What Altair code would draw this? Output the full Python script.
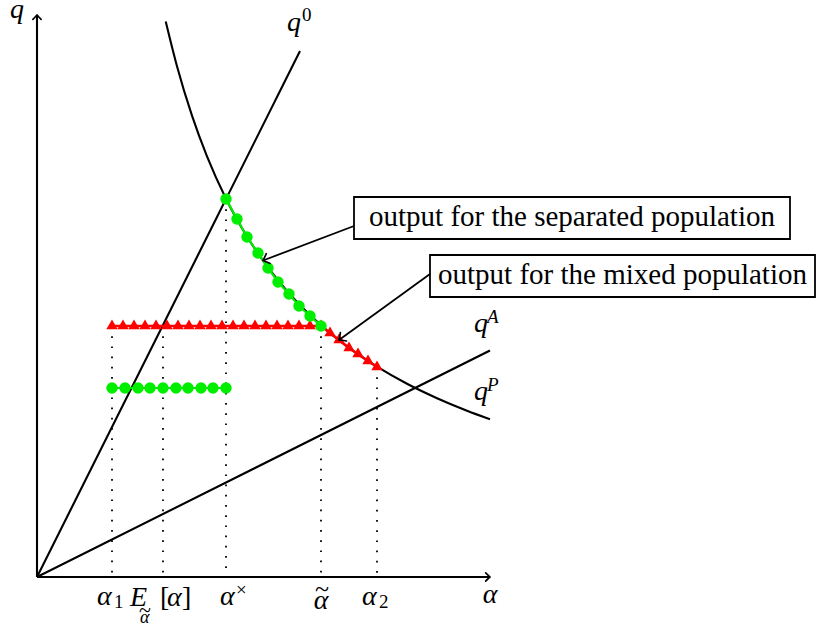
import math
import altair as alt
import pandas as pd

# ---------------------------------------------------------------- data
alpha_end, q_end = 4.53, 5.62          # reach of the alpha and q axes

# q^0 and q^A: straight schedules through the origin
q0_alpha = [0.0, 2.63]
q0_q = [0.0, 5.26]
qA_alpha = [0.0, 4.53]
qA_q = [0.0, 2.265]

# q^P: decreasing, convex schedule
qP_alpha = [1.287, 1.40, 1.55, 1.70, 1.89, 2.10, 2.35, 2.60, 2.84, 3.10,
            3.40, 3.70, 4.00, 4.30, 4.53]
qP_q = [5.556, 5.107, 4.613, 4.206, 3.783, 3.405, 3.043, 2.750, 2.518, 2.306,
        2.103, 1.932, 1.788, 1.663, 1.578]

# marked types: alpha_1, E[alpha], alpha^x, alpha~, alpha_2
tick_alpha = [0.75, 1.26, 1.89, 2.84, 3.40]
tick_top = [2.51, 2.51, 3.78, 2.51, 2.10]

# output for the mixed population (red triangles)
mixed_alpha = [0.75, 0.86, 0.97, 1.08, 1.19, 1.30, 1.41, 1.52, 1.63, 1.74,
               1.85, 1.96, 2.07, 2.18, 2.29, 2.40, 2.51, 2.62, 2.73, 2.84,
               2.93, 3.02, 3.12, 3.21, 3.31, 3.40]
mixed_q = [2.51, 2.51, 2.51, 2.51, 2.51, 2.51, 2.51, 2.51, 2.51, 2.51,
           2.51, 2.51, 2.51, 2.51, 2.51, 2.51, 2.51, 2.51, 2.51, 2.51,
           2.44, 2.37, 2.29, 2.23, 2.16, 2.10]

# output for the separated population (green dots)
sep_low_alpha = [0.75, 0.88, 1.01, 1.13, 1.26, 1.39, 1.51, 1.64, 1.76, 1.89]
sep_low_q = [1.89, 1.89, 1.89, 1.89, 1.89, 1.89, 1.89, 1.89, 1.89, 1.89]
sep_high_alpha = [1.89, 2.00, 2.10, 2.21, 2.31, 2.41, 2.52, 2.62, 2.73, 2.84]
sep_high_q = [3.78, 3.58, 3.40, 3.24, 3.09, 2.95, 2.83, 2.71, 2.61, 2.51]

# ---------------------------------------------------------------- canvas
W, H = 817, 626
X_DOMAIN = [-0.37, 7.80]
Y_DOMAIN = [-0.49, 5.77]
PX = 0.01                              # data units per screen pixel
SERIF = "Liberation Serif"
GREEN = "#00ee00"
RED = "#ff0000"
MATH = 28                              # main math glyph size
SCRIPT = 19                            # sub/superscript size

xs = alt.Scale(domain=X_DOMAIN, nice=False, zero=False)
ys = alt.Scale(domain=Y_DOMAIN, nice=False, zero=False)


def xy():
    return dict(x=alt.X("x:Q", scale=xs, axis=None),
                y=alt.Y("y:Q", scale=ys, axis=None))


def segs():
    return dict(x=alt.X("x:Q", scale=xs, axis=None),
                y=alt.Y("y:Q", scale=ys, axis=None),
                x2=alt.X2("x2:Q"), y2=alt.Y2("y2:Q"))


ARROW = ("M-1,-0.95 C-0.55,-0.5 -0.2,-0.15 0,0 "
         "C-0.2,0.15 -0.55,0.5 -1,0.95")


def heading(x0, y0, x1, y1):
    return math.degrees(math.atan2(-(y1 - y0), x1 - x0)) % 360


def arrow_heads(rows, size, width):
    df = pd.DataFrame(rows)
    return alt.Chart(df).mark_point(
        shape=ARROW, filled=False, color="black", strokeWidth=width,
        opacity=1, strokeCap="round", strokeJoin="round", size=size
    ).encode(**xy(), angle=alt.Angle("angle:Q", scale=None))


# ---------------------------------------------------------------- curves
curves = pd.DataFrame(
    [dict(x=a, y=q, curve="q0") for a, q in zip(q0_alpha, q0_q)]
    + [dict(x=a, y=q, curve="qA") for a, q in zip(qA_alpha, qA_q)]
    + [dict(x=a, y=q, curve="qP") for a, q in zip(qP_alpha, qP_q)]
)
curve_layer = alt.Chart(curves).mark_line(
    color="black", strokeWidth=2.1, interpolate="monotone"
).encode(**xy(), detail="curve:N")

# axes with arrow tips
axes = pd.DataFrame([
    dict(x=0.0, y=0.0, x2=alpha_end, y2=0.0),
    dict(x=0.0, y=0.0, x2=0.0, y2=q_end),
])
axis_layer = alt.Chart(axes).mark_rule(color="black", strokeWidth=2.1).encode(**segs())
axis_tips = arrow_heads([
    dict(x=alpha_end, y=0.0, angle=0.0),
    dict(x=0.0, y=q_end, angle=270.0),
], size=75, width=1.7)

# dotted guides down to the alpha axis
guides = pd.DataFrame(dict(x=tick_alpha, y=tick_top, x2=tick_alpha, y2=[0.0] * 5))
guide_layer = alt.Chart(guides).mark_rule(
    color="black", strokeWidth=1.8, strokeDash=[1.7, 8.5]
).encode(**segs())

# mixed population
mixed = pd.DataFrame(dict(x=mixed_alpha, y=mixed_q, i=range(len(mixed_alpha))))
mixed_line = alt.Chart(mixed).mark_line(color=RED, strokeWidth=2.6).encode(
    **xy(), order="i:Q")
TRI = "M0,-1 L-0.866,0.5 L0.866,0.5 Z"
mixed_marks = alt.Chart(mixed).mark_point(
    shape=TRI, filled=True, color=RED, opacity=1, size=170
).encode(**xy())

# separated population
sep = pd.DataFrame(
    [dict(x=a, y=q, part="low", i=k) for k, (a, q) in enumerate(zip(sep_low_alpha, sep_low_q))]
    + [dict(x=a, y=q, part="high", i=k) for k, (a, q) in enumerate(zip(sep_high_alpha, sep_high_q))]
)
sep_line = alt.Chart(sep).mark_line(color=GREEN, strokeWidth=2.2).encode(
    **xy(), detail="part:N", order="i:Q")
sep_marks = alt.Chart(sep).mark_circle(color=GREEN, opacity=1, size=130).encode(**xy())

# ---------------------------------------------------------------- callouts
box_sep = dict(x=3.17, x2=7.53, y=3.80, y2=3.38)
box_mix = dict(x=3.93, x2=7.78, y=3.22, y2=2.80)
boxes = pd.DataFrame([box_sep, box_mix])
box_layer = alt.Chart(boxes).mark_rect(
    fill="white", stroke="black", strokeWidth=1.8
).encode(**segs())

tip_sep = ((sep_high_alpha[3] + sep_high_alpha[4]) / 2, (sep_high_q[3] + sep_high_q[4]) / 2)
tip_mix = (mixed_alpha[21], mixed_q[21])
start_sep = (box_sep["x"], 3.51)
start_mix = (box_mix["x"], 3.03)
pointers = pd.DataFrame([
    dict(x=start_sep[0], y=start_sep[1], x2=tip_sep[0], y2=tip_sep[1]),
    dict(x=start_mix[0], y=start_mix[1], x2=tip_mix[0], y2=tip_mix[1]),
])
pointer_layer = alt.Chart(pointers).mark_rule(color="black", strokeWidth=1.8).encode(**segs())
pointer_tips = arrow_heads([
    dict(x=tip_sep[0], y=tip_sep[1], angle=heading(*start_sep, *tip_sep)),
    dict(x=tip_mix[0], y=tip_mix[1], angle=heading(*start_mix, *tip_mix)),
], size=120, width=1.7)

# ---------------------------------------------------------------- text
labels = []


def put(a, q, text, dx, dy, size, italic=True, align="left"):
    labels.append(dict(x=a + dx * PX, y=q - dy * PX, text=text, size=size,
                       style="italic" if italic else "normal", align=align))


a1, aE, aX, aT, a2 = tick_alpha
put(a1, 0, "α", -15, 28, MATH)
put(a1, 0, "1", 2, 31, SCRIPT, italic=False)
put(aE, 0, "E", -33, 29, MATH)
put(aE, 0, "α", -23, 46, SCRIPT - 1)
put(aE, 0, "~", -18, 40, 22, italic=False, align="center")
put(aE, 0, "[", -3, 29, MATH, italic=False)
put(aE, 0, "α", 4, 29, MATH)
put(aE, 0, "]", 19, 29, MATH, italic=False)
put(aX, 0, "α", -6, 28, MATH)
put(aX, 0, "×", 10, 19, SCRIPT, italic=False)
put(aT, 0, "α", 0, 32, MATH, align="center")
put(aT, 0, "~", 1, 20, 26, italic=False, align="center")
put(a2, 0, "α", -15, 28, MATH)
put(a2, 0, "2", 2, 31, SCRIPT, italic=False)
put(alpha_end, 0, "α", 0, 26, MATH, align="center")

put(0.0, q_end, "q", -20, 3, MATH, align="center")
put(q0_alpha[1], q0_q[1], "q", -13, -20, MATH)
put(q0_alpha[1], q0_q[1], "0", 2, -30, SCRIPT, italic=False)
put(qA_alpha[1], qA_q[1], "q", -16, -19, MATH)
put(qA_alpha[1], qA_q[1], "A", -3, -28, SCRIPT)
put(qP_alpha[-1], qP_q[-1], "q", -16, -19, MATH)
put(qP_alpha[-1], qP_q[-1], "P", -3, -28, SCRIPT)

put((box_sep["x"] + box_sep["x2"]) / 2, 3.51, "output for the separated population",
    0, 0, 29, italic=False, align="center")
put((box_mix["x"] + box_mix["x2"]) / 2, 2.93, "output for the mixed population",
    0, 0, 29, italic=False, align="center")

text_df = pd.DataFrame(labels)
text_layers = []
for style in ["italic", "normal"]:
    for align in ["left", "center"]:
        sub = text_df[(text_df["style"] == style) & (text_df["align"] == align)]
        if len(sub) == 0:
            continue
        text_layers.append(
            alt.Chart(sub).mark_text(
                font=SERIF, fontStyle=style, align=align, baseline="alphabetic",
                color="black"
            ).encode(**xy(), text="text:N", size=alt.Size("size:Q", scale=None))
        )

chart = alt.layer(
    curve_layer, axis_layer, axis_tips, guide_layer,
    mixed_line, mixed_marks, sep_line, sep_marks,
    pointer_layer, pointer_tips, box_layer, *text_layers
).properties(
    width=W, height=H, padding=0, autosize=alt.AutoSizeParams(type="none"),
    background="white"
).configure_view(stroke=None)

chart.save("out.html", embed_options={"renderer": "svg", "actions": False})
